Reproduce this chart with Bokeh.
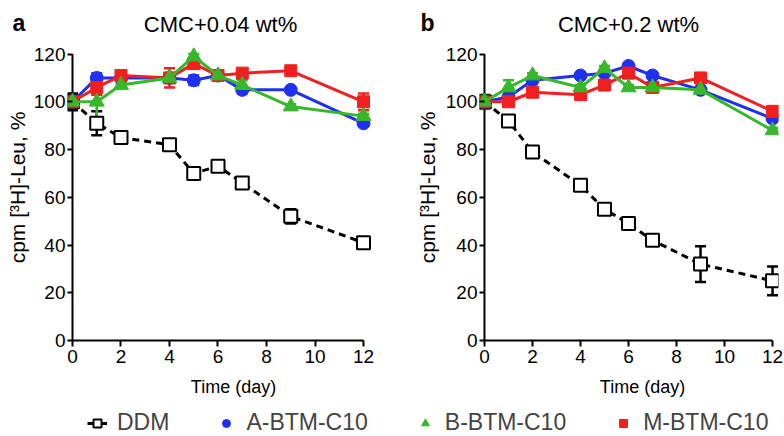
import math
from bokeh.plotting import figure
from bokeh.models import (Range1d, FixedTicker, Whisker, ColumnDataSource, TeeHead,
                          Legend, LegendItem)
from bokeh.core.properties import value
from bokeh.layouts import column, row
from bokeh.embed import file_html
from bokeh.resources import INLINE

FONT = "Liberation Sans"

days = [0, 1, 2, 4, 5, 6, 7, 9, 12]
x_ticks = [0, 2, 4, 6, 8, 10, 12]
y_ticks = [0, 20, 40, 60, 80, 100, 120]
series_names = ["DDM", "A-BTM-C10", "B-BTM-C10", "M-BTM-C10"]
series_colors = ["black", "#2030f0", "#36b82a", "#f02020"]
series_markers = ["square", "circle", "triangle", "square"]
series_sizes = [13, 13, 15, 12]
panel_titles = ["CMC+0.04 wt%", "CMC+0.2 wt%"]
panel_letters = ["a", "b"]
y_label = "cpm [³H]-Leu, %"
x_label = "Time (day)"

# panel a : CMC+0.04 wt%
a_ddm = [100, 91, 85, 82, 70, 73, 66, 52, 41]
a_ddm_err = [3.5, 5, 1, 1, 1, 1, 1, 3, 1]
a_abtm = [100, 110, 110, 110, 109, 111, 105, 105, 91]
a_abtm_err = [1, 2, 1, 1, 2, 1, 1.5, 1, 1]
a_bbtm = [100, 100, 107, 110, 119, 111, 107, 98, 94]
a_bbtm_err = [2, 7, 1, 1, 1, 1, 2, 1, 1]
a_mbtm = [100, 106, 111, 110, 116, 111, 112, 113, 100]
a_mbtm_err = [2, 3, 1, 4, 2, 1, 1.5, 1, 3.5]

# panel b : CMC+0.2 wt%
b_ddm = [100, 92, 79, 65, 55, 49, 42, 32, 25]
b_ddm_err = [1, 1, 1.5, 1, 1, 2, 1, 7.5, 6]
b_abtm = [100, 102, 109, 111, 112, 115, 111, 105, 93]
b_abtm_err = [1, 3, 1, 1, 1, 1, 1, 1, 1]
b_bbtm = [100, 106, 111, 106, 114, 106, 106, 105, 88]
b_bbtm_err = [3, 3, 1, 1, 1, 1, 1, 1, 1]
b_mbtm = [100, 100, 104, 103, 107, 112, 106, 110, 96]
b_mbtm_err = [1, 1, 1, 1, 1, 1, 1, 1, 1]

TOP_H = 44          # strip with letters and titles (page 0..44)
FRAME_H = 296       # plot frames (page 44..340)
BOTTOM_B = 34       # x-axis ticks/labels below frame
PH = FRAME_H + BOTTOM_B
STRIP_H = 62        # x titles and legend (page 374..436)
Y_END = 124


def blank(width, height, **kw):
    f = figure(width=width, height=height, output_backend="svg", toolbar_location=None,
               title=None, x_axis_location=None, y_axis_location=None, **kw)
    f.outline_line_color = None
    f.grid.visible = False
    return f


def side(width, label_x):
    f = blank(width, PH, x_range=Range1d(0, width), y_range=Range1d(0, FRAME_H),
              min_border_left=0, min_border_right=0, min_border_top=0,
              min_border_bottom=BOTTOM_B)
    # y is measured upward from the frame bottom (page y 340)
    f.text(x=[label_x], y=[340 - 187], text=[y_label], angle=math.pi / 2,
           text_font=value(FONT), text_font_size="21px", text_align="center",
           text_baseline="middle", text_color="black")
    return f


def add_series(p, y, err, color, marker, size, dashed):
    src = ColumnDataSource(dict(x=days, y=y,
                                lo=[v - e for v, e in zip(y, err)],
                                hi=[v + e for v, e in zip(y, err)]))
    w = Whisker(source=src, base="x", lower="lo", upper="hi",
                line_color=color, line_width=2.5,
                upper_head=TeeHead(size=11, line_color=color, line_width=2.5),
                lower_head=TeeHead(size=11, line_color=color, line_width=2.5))
    p.add_layout(w)
    p.line("x", "y", source=src, line_color=color, line_width=3,
           line_dash="7 5" if dashed else "solid")
    if dashed:
        p.scatter("x", "y", source=src, marker=marker, size=size, fill_color="white",
                  line_color=color, line_width=2)
    else:
        p.scatter("x", "y", source=src, marker=marker, size=size,
                  fill_color=color, line_color=color, line_width=1)


def make_panel(data, x_start, x_end, border_left, border_right, width):
    p = figure(width=width, height=PH, output_backend="svg", toolbar_location=None, title=None,
               x_range=Range1d(x_start, x_end), y_range=Range1d(0, Y_END),
               min_border_left=border_left, min_border_right=border_right,
               min_border_top=0, min_border_bottom=BOTTOM_B)
    p.outline_line_color = None
    p.grid.visible = False

    xa = p.xaxis[0]
    xa.ticker = FixedTicker(ticks=x_ticks)
    xa.bounds = (x_ticks[0], x_ticks[-1])
    xa.axis_line_width = 2
    xa.major_tick_line_width = 2
    xa.major_tick_out = 6
    xa.major_tick_in = 0
    xa.minor_tick_line_color = None
    xa.major_label_text_font = FONT
    xa.major_label_text_font_size = "19px"
    xa.major_label_text_color = "black"
    xa.major_label_standoff = 3

    ya = p.yaxis[0]
    ya.ticker = FixedTicker(ticks=y_ticks)
    ya.axis_line_color = None
    ya.major_tick_line_width = 2
    ya.major_tick_in = 5
    ya.major_tick_out = 0
    ya.minor_tick_line_color = None
    ya.major_label_text_font = FONT
    ya.major_label_text_font_size = "19px"
    ya.major_label_text_color = "black"
    ya.major_label_standoff = 2

    # y-axis line at x = 0
    p.segment(x0=[x_ticks[0]], y0=[y_ticks[0]], x1=[x_ticks[0]], y1=[y_ticks[-1]],
              line_color="black", line_width=2)

    for i in [0, 1, 3, 2]:
        y, err = data[i]
        add_series(p, y, err, series_colors[i], series_markers[i], series_sizes[i], i == 0)
    return p


# top strip: panel letters and titles
top = blank(784, TOP_H, x_range=Range1d(0, 784), y_range=Range1d(0, TOP_H), min_border=0)
top.text(x=[12, 420], y=[TOP_H - 22, TOP_H - 22], text=panel_letters, text_font=value(FONT),
         text_font_size="23px", text_font_style="bold", text_align="left",
         text_baseline="alphabetic", text_color="black")
top.text(x=[220, 628], y=[TOP_H - 24, TOP_H - 24], text=panel_titles, text_font=value(FONT),
         text_font_size="22px", text_align="center", text_baseline="middle",
         text_color="black")

fa = side(30, 17)
pa = make_panel([(a_ddm, a_ddm_err), (a_abtm, a_abtm_err), (a_bbtm, a_bbtm_err), (a_mbtm, a_mbtm_err)],
                -0.206, 12.371, 37, 20, 362)
fb = side(50, 35)
pb = make_panel([(b_ddm, b_ddm_err), (b_abtm, b_abtm_err), (b_bbtm, b_bbtm_err), (b_mbtm, b_mbtm_err)],
                -0.207, 12.248, 35, 6, 342)

# bottom strip: x-axis titles and legend
pl = blank(784, STRIP_H, x_range=Range1d(0, 784), y_range=Range1d(0, STRIP_H), min_border=0)
pl.text(x=[233, 642], y=[STRIP_H - 12, STRIP_H - 12], text=[x_label, x_label],
        text_font=value(FONT), text_font_size="18px", text_align="center",
        text_baseline="middle", text_color="black")
nan = float("nan")
items = []
for i, name in enumerate(series_names):
    holder = ColumnDataSource(dict(x=[nan], y=[nan]))
    rs = []
    if i == 0:
        rs.append(pl.line("x", "y", source=holder, line_color="black", line_width=3))
        rs.append(pl.scatter("x", "y", source=holder, marker="square", size=13,
                             fill_color="white", line_color="black", line_width=2))
    else:
        rs.append(pl.scatter("x", "y", source=holder, marker=series_markers[i], size=15,
                             fill_color=series_colors[i], line_color=series_colors[i]))
    items.append(LegendItem(label=name, renderers=rs))
leg = Legend(items=items, orientation="horizontal", location=(87, 0), padding=0, margin=0,
             spacing=47, glyph_width=20, glyph_height=20, label_standoff=10,
             label_text_font=FONT, label_text_font_size="23px",
             border_line_color=None, background_fill_alpha=0)
pl.add_layout(leg)

layout = column(top, row(fa, pa, fb, pb), pl)
open("out.html", "w").write(file_html(layout, INLINE))
